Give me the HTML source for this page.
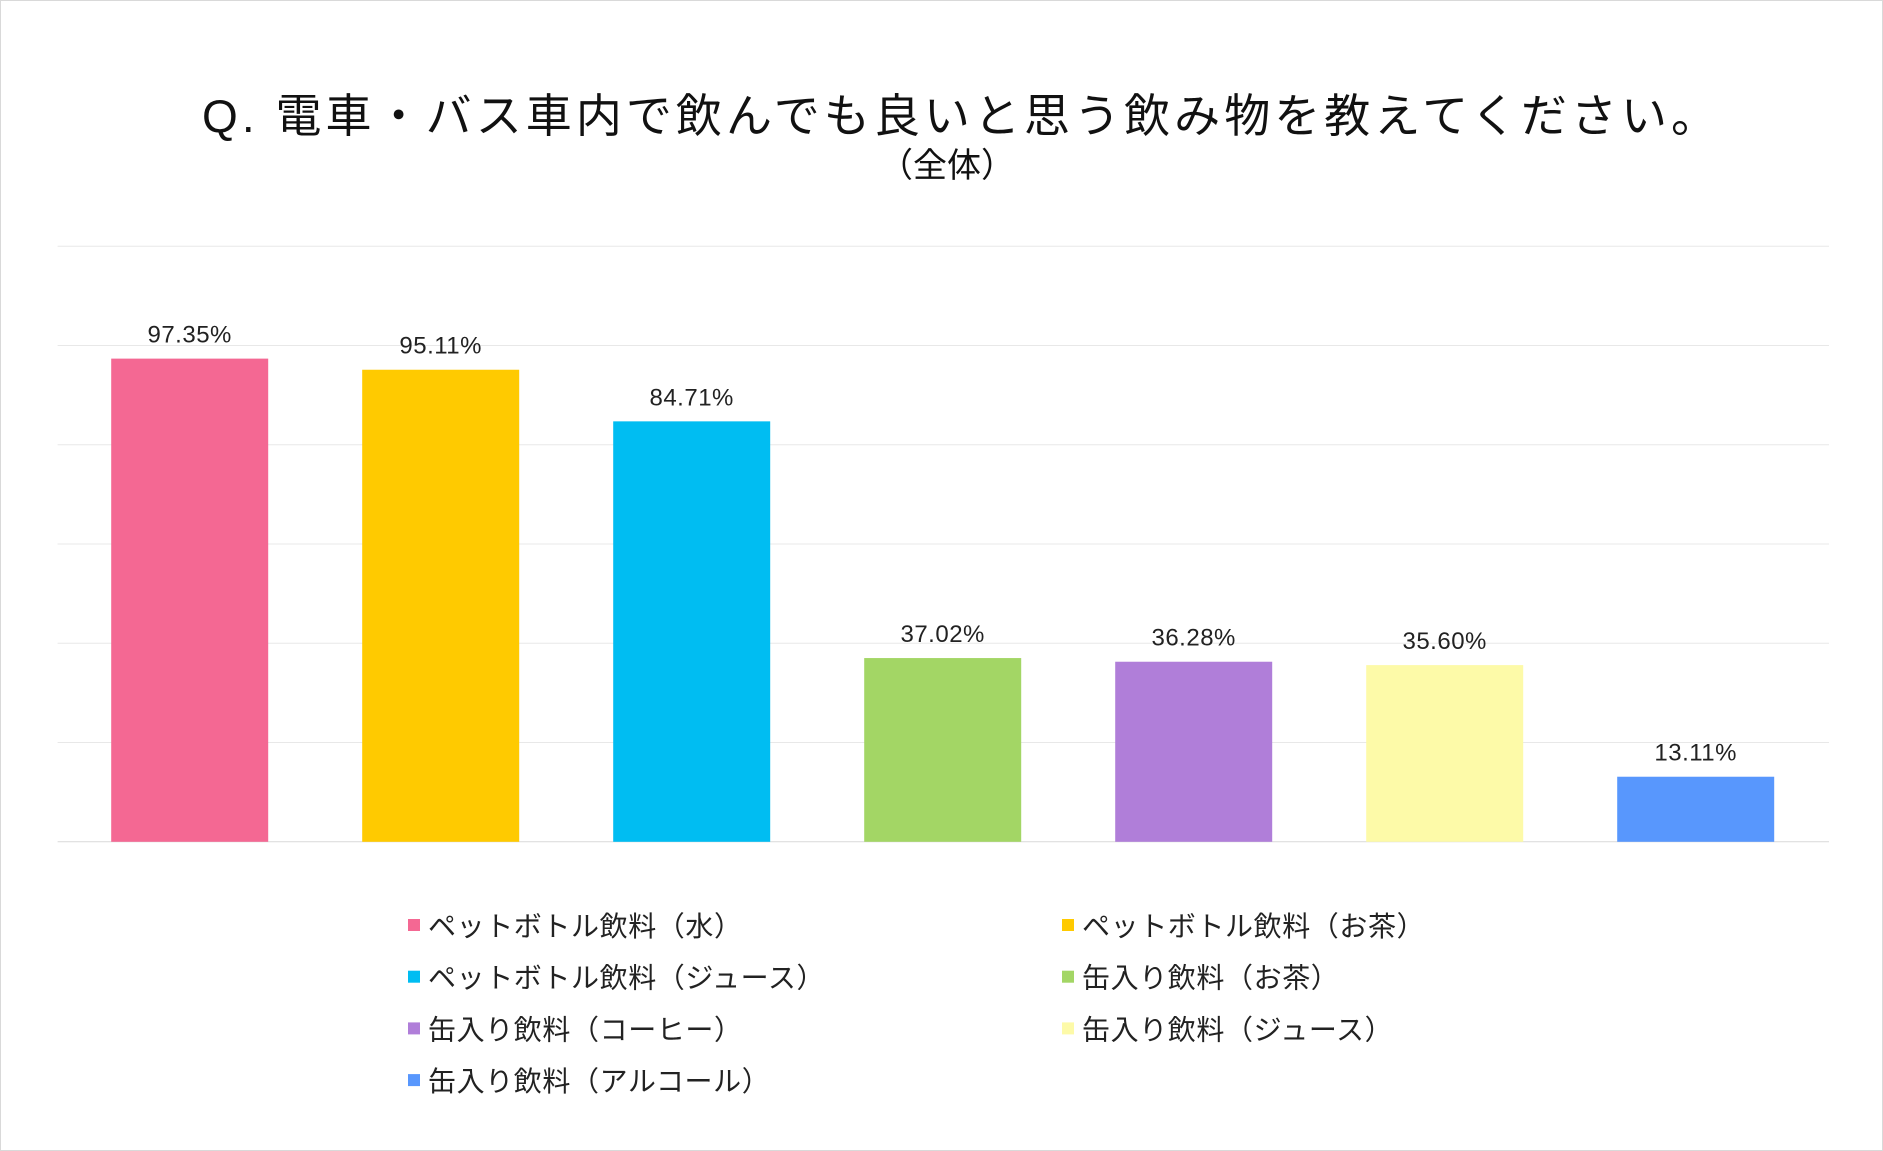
<!DOCTYPE html>
<html><head><meta charset="utf-8">
<style>
html,body{margin:0;padding:0;background:#fff;}
body{width:1883px;height:1151px;overflow:hidden;font-family:"Liberation Sans","Noto Sans CJK JP",sans-serif;}
#frame{position:absolute;left:0;top:0;width:1881px;height:1149px;border:1px solid #d9d9d9;}
</style></head>
<body>
<div id="frame"></div>
<svg id="chart" width="1883" height="1151" style="position:absolute;left:0;top:0">
<text x="202" y="132" font-size="46" fill="#111" textLength="1515" lengthAdjust="spacing" font-family="Liberation Sans, Noto Sans CJK JP, sans-serif">Q.  電車・バス車内で飲んでも良いと思う飲み物を教えてください。</text>
<text x="947" y="177" font-size="34" fill="#111" text-anchor="middle" font-family="Liberation Sans, Noto Sans CJK JP, sans-serif">（全体）</text>
<g id="grid"></g><g id="bars"></g><g id="legend"></g>
</svg>
<script>
const categories=["ペットボトル飲料（水）","ペットボトル飲料（お茶）","ペットボトル飲料（ジュース）","缶入り飲料（お茶）","缶入り飲料（コーヒー）","缶入り飲料（ジュース）","缶入り飲料（アルコール）"];
const values=[97.35,95.11,84.71,37.02,36.28,35.60,13.11];
const colors=["#f46893","#ffca00","#00bdf2","#a3d665","#b07ed9","#fdfaa8","#5897fd"];
const gridTicks=[0,20,40,60,80,100,120];
const NS="http://www.w3.org/2000/svg";
const y0=841.8,yTop=246.2,maxV=120;
const yS=v=>y0-(v/maxV)*(y0-yTop);
const xC=i=>189.7+i*251;
const bw=157;
const grid=document.getElementById('grid');
gridTicks.forEach(t=>{const l=document.createElementNS(NS,'line');


l.setAttribute('x1',57.6);l.setAttribute('x2',1829);l.setAttribute('y1',yS(t));l.setAttribute('y2',yS(t));
l.setAttribute('stroke',t===0?'#d9d9d9':'#e8e8e8');l.setAttribute('stroke-width',1);grid.appendChild(l);});
const bars=document.getElementById('bars');
values.forEach((v,i)=>{const r=document.createElementNS(NS,'rect');


r.setAttribute('x',xC(i)-bw/2);r.setAttribute('y',yS(v));r.setAttribute('width',bw);r.setAttribute('height',y0-yS(v));r.setAttribute('fill',colors[i]);bars.appendChild(r);
const t=document.createElementNS(NS,'text');


t.setAttribute('x',xC(i));t.setAttribute('y',yS(v)-16);t.setAttribute('text-anchor','middle');t.setAttribute('font-size','24');t.setAttribute('letter-spacing','0.5');t.setAttribute('fill','#222');
t.textContent=v.toFixed(2)+'%';bars.appendChild(t);});
const lg=document.getElementById('legend');
categories.forEach((c,i)=>{const col=i%2,row=Math.floor(i/2);
const x=col?1062:408,y=926+row*51.7;
const g=document.createElementNS(NS,'g');


const s=document.createElementNS(NS,'rect');
s.setAttribute('x',x);s.setAttribute('y',y-7);s.setAttribute('width',12);s.setAttribute('height',12);s.setAttribute('fill',colors[i]);g.appendChild(s);
const t=document.createElementNS(NS,'text');
t.setAttribute('x',x+20);t.setAttribute('y',y+10);t.setAttribute('font-size','28');t.setAttribute('letter-spacing','0.6');t.setAttribute('fill','#222');t.textContent=c;g.appendChild(t);
lg.appendChild(g);});
</script>
</body></html>
